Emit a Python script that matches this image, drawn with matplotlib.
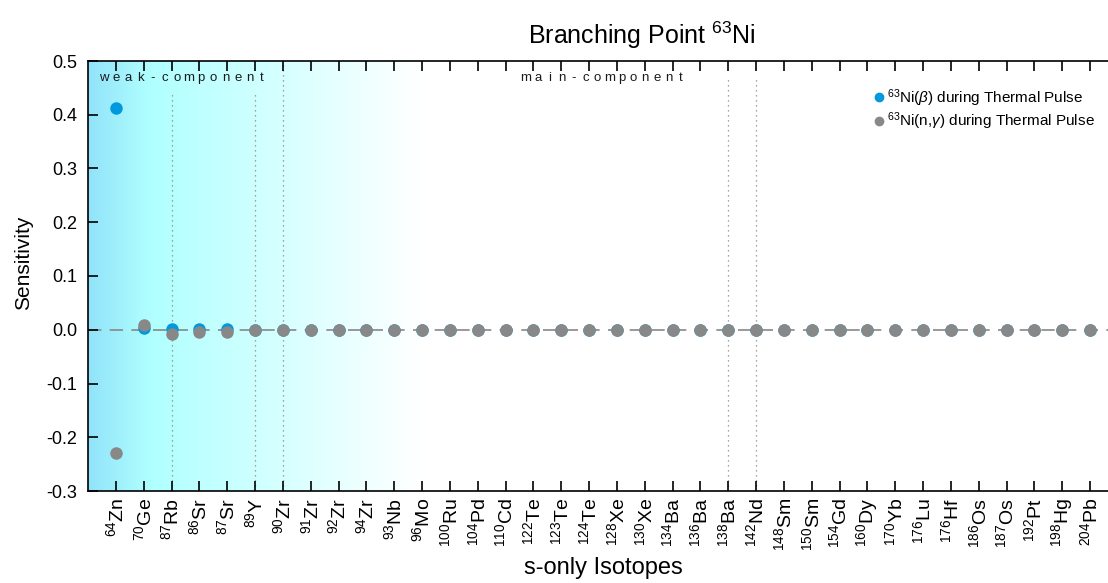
import numpy as np
import matplotlib
matplotlib.use("Agg")
import matplotlib.pyplot as plt
from matplotlib.lines import Line2D

plt.rcParams['font.family'] = ['Liberation Sans', 'DejaVu Sans']
plt.rcParams['mathtext.fontset'] = 'custom'
plt.rcParams['mathtext.rm'] = 'Liberation Sans'
plt.rcParams['mathtext.it'] = 'Liberation Sans:italic'
plt.rcParams['mathtext.bf'] = 'Liberation Sans:bold'

# s-only isotopes (mass number, element)
masses = [64, 70, 87, 86, 87, 89, 90, 91, 92, 94, 93, 96, 100, 104, 110, 122,
          123, 124, 128, 130, 134, 136, 138, 142, 148, 150, 154, 160, 170, 176,
          176, 186, 187, 192, 198, 204]
elements = ['Zn', 'Ge', 'Rb', 'Sr', 'Sr', 'Y', 'Zr', 'Zr', 'Zr', 'Zr', 'Nb',
            'Mo', 'Ru', 'Pd', 'Cd', 'Te', 'Te', 'Te', 'Xe', 'Xe', 'Ba', 'Ba',
            'Ba', 'Nd', 'Sm', 'Sm', 'Gd', 'Dy', 'Yb', 'Lu', 'Hf', 'Os', 'Os',
            'Pt', 'Hg', 'Pb']

# sensitivities to the 63Ni beta-decay rate and neutron-capture rate
sens_beta = [0.413, 0.004, 0.001, 0.001, 0.001] + [0.0] * 31
sens_ngamma = [-0.230, 0.008, -0.007, -0.005, -0.004] + [0.0] * 31

# isotopes marked with dotted separators
separators = ['Rb87', 'Y89', 'Zr90', 'Ba138', 'Nd142']

tick_labels = [f'$^{{{m}}}$' + '$\\mathrm{' + e + '}$' for m, e in zip(masses, elements)]
x = np.arange(len(masses))

fig = plt.figure(figsize=(11.08, 5.83), dpi=100)
W, H = 1108, 583
ax_l, ax_r, ax_t, ax_b = 88, 1118, 61, 491
ax = fig.add_axes([ax_l / W, (H - ax_b) / H, (ax_r - ax_l) / W, (ax_b - ax_t) / H])

xmin, xmax = -1.0, 36.0
ymin, ymax = -0.3, 0.5
ax.set_xlim(xmin, xmax)
ax.set_ylim(ymin, ymax)

# horizontal background gradient: sky blue -> cyan -> white
px = np.linspace(ax_l, ax_r, 1200)
stops_px = [ax_l, 150, 420, ax_r]
stops_col = [(0.57, 0.89, 0.98), (0.69, 1.0, 1.0), (1.0, 1.0, 1.0), (1.0, 1.0, 1.0)]
grad = np.zeros((1, len(px), 3))
for c in range(3):
    grad[0, :, c] = np.interp(px, stops_px, [s[c] for s in stops_col])
ax.imshow(grad, extent=[xmin, xmax, ymin, ymax], aspect='auto', zorder=0,
          interpolation='bilinear')

# zero line
ax.axhline(0.0, color='#888888', lw=1.2, dashes=(8, 5), zorder=1)

# separators
keys = [f'{e}{m}' for m, e in zip(masses, elements)]
sep_top = {'Rb87': 0.44, 'Y89': 0.44, 'Zr90': 0.5, 'Ba138': 0.47, 'Nd142': 0.47}
for s in separators:
    i = keys.index(s)
    ax.vlines(x[i], ymin, sep_top[s], colors='#888888', linestyles=(0, (1, 3)),
              lw=0.9, zorder=1)

# data
ax.plot(x, sens_beta, 'o', color='#0099DD', ms=9, mec='none', zorder=3)
ax.plot(x, sens_ngamma, 'o', color='#888888', ms=9, mec='none', zorder=4)

# component labels with letter tracking
def tracked(text, x0_px, x1_px, y_px):
    n = len(text)
    for k, ch in enumerate(text):
        xp = x0_px + (x1_px - x0_px) * k / (n - 1)
        fig.text(xp / W, 1 - y_px / H, ch, ha='center', va='center',
                 fontsize=9.5, color='#1a1a1a')

tracked('weak-component', 104, 262, 78)
tracked('main-component', 526, 681, 78)

# axes styling
ax.set_xticks(x)
ax.set_xticklabels(tick_labels, rotation=90, fontsize=14, va='top', ha='center')
ax.set_yticks(np.arange(-0.3, 0.51, 0.1))
ax.set_yticklabels([f'{v:.1f}' for v in np.arange(-0.3, 0.51, 0.1)], fontsize=13)
ax.tick_params(axis='both', direction='in', length=7, width=1.2,
               top=True, bottom=True, left=True, right=False)
ax.tick_params(axis='x', pad=5)
ax.tick_params(axis='y', pad=8)
for sp in ax.spines.values():
    sp.set_linewidth(1.2)
ax.spines['right'].set_visible(False)

ax.set_xlabel('s-only Isotopes', fontsize=17, labelpad=4)
ax.set_ylabel('Sensitivity', fontsize=15)
ax.yaxis.set_label_coords(-55 / (ax_r - ax_l), (ax_b - 263) / (ax_b - ax_t))
fig.text(642 / W, 1 - 35 / H, 'Branching Point $^{63}$Ni', ha='center',
         va='center', fontsize=18)

handles = [Line2D([], [], marker='o', ls='none', color='#0099DD', ms=7, mec='none'),
           Line2D([], [], marker='o', ls='none', color='#888888', ms=7, mec='none')]
fig.legend(handles,
           ['$^{63}$Ni($\\beta$) during Thermal Pulse',
            '$^{63}$Ni(n,$\\gamma$) during Thermal Pulse'],
           loc='upper left', bbox_to_anchor=(871 / W, 1 - 87 / H), frameon=False,
           fontsize=11, handletextpad=0.05, handlelength=1.0, labelspacing=0.12,
           borderpad=0.0, borderaxespad=0.0)

fig.savefig('out.png', dpi=100)
